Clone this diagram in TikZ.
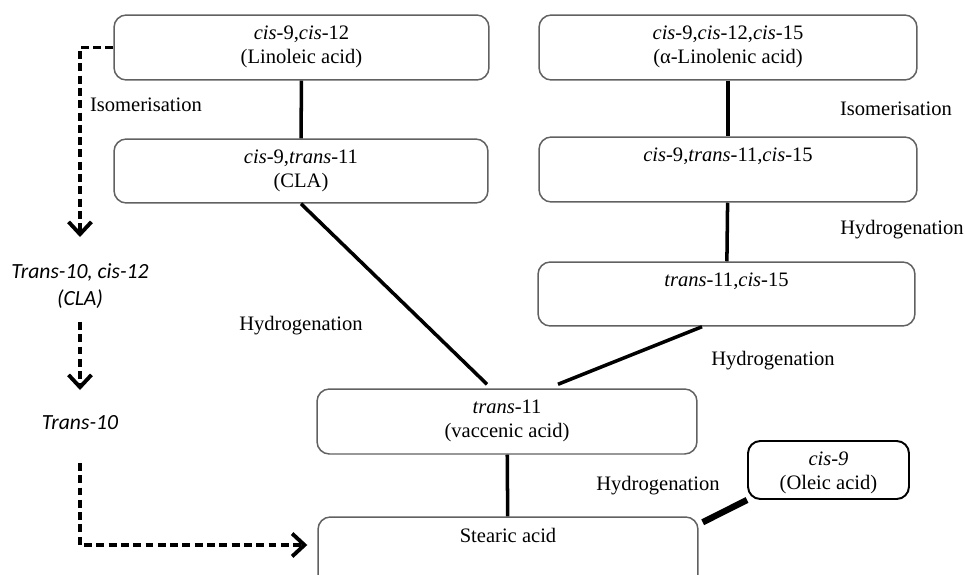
\documentclass[tikz,border=0pt]{standalone}
\usepackage{fontspec}
\setmainfont{Liberation Serif}
\newfontfamily\calfont{Carlito}
\usetikzlibrary{arrows.meta,positioning}

\begin{document}
\begin{tikzpicture}
[x=0.02cm,y=-0.02cm,
  boxDecorate/.style={draw=black!62,line width=0.85pt,rounded corners=7pt,inner sep=0pt},
  boxText/.style={anchor=north,align=center,inner sep=6.5pt,
    font=\fontsize{11.7}{13.6}\selectfont},
  lineDecorate/.style={-,line width=2pt},
  dashDecorate/.style={line width=2.2pt,dash pattern=on 4.5pt off 2.5pt,
    -{Straight Barb[length=7pt,width=13pt]}},
  stepText/.style={font=\fontsize{11.7}{13.6}\selectfont},
  sideText/.style={font=\calfont\itshape\fontsize{12.3}{15.3}\selectfont,align=center}]
\clip (0,0) rectangle (965,575);
%% boxes
\foreach \nodename/\x/\y/\w/\h/\txt in {
  lin/301.5/47.5/7.50/1.30/{\textit{cis}-9,\textit{cis}-12\\(Linoleic acid)},
  aln/728/47.5/7.56/1.30/{\textit{cis}-9,\textit{cis}-12,\textit{cis}-15\\(α-Linolenic acid)},
  cla/301/171/7.48/1.28/{\textit{cis}-9,\textit{trans}-11\\(CLA)},
  ctc/728/169.5/7.56/1.30/{\textit{cis}-9,\textit{trans}-11,\textit{cis}-15},
  tc/726.5/294/7.54/1.28/{\textit{trans}-11,\textit{cis}-15},
  vac/507/421.5/7.60/1.30/{\textit{trans}-11\\(vaccenic acid)},
  ste/508/558.5/7.60/1.66/{Stearic acid}}
{
  \node (\nodename) at (\x,\y) [boxDecorate,minimum width=\w cm,minimum height=\h cm,
    label={[boxText]north:\txt}] {};
}
\node (ole) at (828.5,470) [boxDecorate,draw=black,line width=1.1pt,
  minimum width=3.22cm,minimum height=1.16cm,
  label={[boxText]north:\textit{cis}-\textit{9}\\(Oleic acid)}] {};
%% step names
\foreach \nodename/\x/\y/\txt in {
  isoL/146/105/Isomerisation, isoR/896/109/Isomerisation,
  hydR/902/230/Hydrogenation, hydL/301/326/Hydrogenation,
  hydM/773/361/Hydrogenation, hydS/658/486/Hydrogenation}
{
  \node (\nodename) at (\x,\y) [stepText] {\txt};
}
%% trans-10 route
\node (t1012) at (80,286) [sideText] {Trans-10, cis-12\\(CLA)};
\node (t10) at (80,423) [sideText] {Trans-10};
%% links
\path
\foreach \startnode/\endnode in {lin/cla, aln/ctc, ctc/tc, vac/ste}
{
  (\startnode) edge[lineDecorate] (\endnode)
};
\draw[lineDecorate] (cla.south) -- ([xshift=-0.4cm,yshift=0.08cm]vac.north);
\draw[lineDecorate] ([xshift=-0.49cm]tc.south) -- ([xshift=1.02cm,yshift=0.08cm]vac.north);
\draw[line width=3.6pt] (ole.south west) -- ([xshift=0.08cm,yshift=-0.12cm]ste.north east);
\draw[dashDecorate] (lin.west) -| ([yshift=0.98cm]t1012.center);
\draw[dashDecorate] ([yshift=-0.72cm]t1012.center) -- ([yshift=0.66cm]t10.center);
\draw[dashDecorate] ([yshift=-0.8cm]t10.center) |- ([xshift=-0.2cm,yshift=0.27cm]ste.west);
\end{tikzpicture}
\end{document}
